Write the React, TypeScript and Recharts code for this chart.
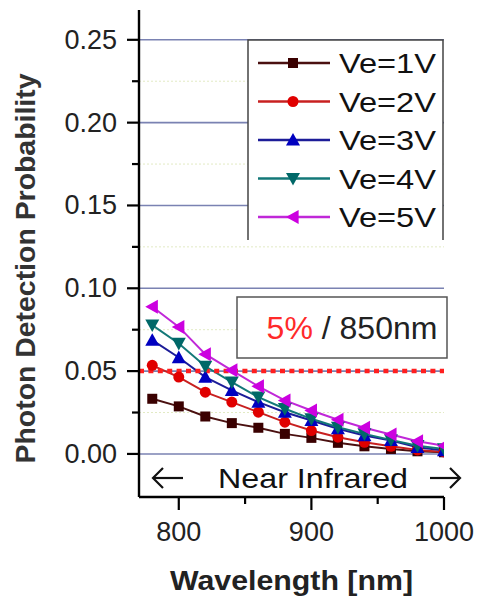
import React from "react";
import { LineChart, Line, XAxis, YAxis, ReferenceLine } from "recharts";

// wavelength samples (nm)
const WAVELENGTHS = [780, 800, 820, 840, 860, 880, 900, 920, 940, 960, 980, 1000];

// photon detection probability per excess bias
const VE1 = [0.0333, 0.0287, 0.0226, 0.0186, 0.0158, 0.0121, 0.0097, 0.0067, 0.0046, 0.003, 0.0016, 0.001];
const VE2 = [0.0535, 0.0464, 0.0373, 0.0313, 0.0252, 0.0192, 0.0141, 0.0101, 0.007, 0.0046, 0.0024, 0.0012];
const VE3 = [0.0687, 0.0582, 0.0464, 0.0384, 0.0313, 0.0252, 0.0202, 0.0152, 0.0111, 0.0081, 0.004, 0.002];
const VE4 = [0.0778, 0.0667, 0.0529, 0.0434, 0.0343, 0.0273, 0.0212, 0.0161, 0.0121, 0.0085, 0.005, 0.003];
const VE5 = [0.0889, 0.0767, 0.0602, 0.0505, 0.0408, 0.0323, 0.0262, 0.0206, 0.0158, 0.0117, 0.0076, 0.005];

const Y_TICKS = [0, 0.025, 0.05, 0.075, 0.1, 0.125, 0.15, 0.175, 0.2, 0.225, 0.25];
const Y_LABELS = [0, 0.05, 0.1, 0.15, 0.2, 0.25];
const Y_MINOR_GRID = [0.025, 0.075, 0.125, 0.175, 0.225];
const X_TICKS = [800, 850, 900, 950, 1000];
const X_LABELS = [800, 900, 1000];
const TARGET = 0.05;

const SERIES = [
  { key: "v1", name: "Ve=1V", values: VE1, line: "#4a1010", fill: "#3a0000", shape: "square" },
  { key: "v2", name: "Ve=2V", values: VE2, line: "#c82020", fill: "#e00000", shape: "circle" },
  { key: "v3", name: "Ve=3V", values: VE3, line: "#1c1c98", fill: "#0000c0", shape: "up" },
  { key: "v4", name: "Ve=4V", values: VE4, line: "#137878", fill: "#006868", shape: "down" },
  { key: "v5", name: "Ve=5V", values: VE5, line: "#c028d8", fill: "#cc00e0", shape: "left" },
];

const data = WAVELENGTHS.map((wl, i) => {
  const row: any = { wl };
  SERIES.forEach((s) => (row[s.key] = s.values[i]));
  return row;
});

const FONT = "'Liberation Sans', Arial, sans-serif";
const Y_TICK_SIZE = 12;
const Y_TICK_GAP = 10;
const X_TICK_SIZE = 13;
const X_TICK_GAP = 12;

function Marker({ cx, cy, shape, color }: any) {
  if (cx == null || cy == null) return null;
  if (shape === "square") return <rect x={cx - 5} y={cy - 5} width={10} height={10} fill={color} />;
  if (shape === "circle") return <circle cx={cx} cy={cy} r={5.5} fill={color} />;
  const s = 7;
  let pts = "";
  if (shape === "up") pts = `${cx},${cy - s} ${cx + s},${cy + s * 0.8} ${cx - s},${cy + s * 0.8}`;
  if (shape === "down") pts = `${cx},${cy + s} ${cx + s},${cy - s * 0.8} ${cx - s},${cy - s * 0.8}`;
  if (shape === "left") pts = `${cx - s},${cy} ${cx + s * 0.8},${cy - s} ${cx + s * 0.8},${cy + s}`;
  return <polygon points={pts} fill={color} />;
}

function YTick({ x, y, payload }: any) {
  const ax = x + Y_TICK_SIZE + Y_TICK_GAP;
  const major = Y_LABELS.includes(payload.value);
  return (
    <g>
      <line x1={ax} x2={ax - (major ? Y_TICK_SIZE : 7)} y1={y} y2={y} stroke="#000" strokeWidth={2.2} />
      {major && (
        <text x={x} y={y} textAnchor="end" dominantBaseline="central" fontSize={27} fontFamily={FONT} fill="#222">
          {payload.value.toFixed(2)}
        </text>
      )}
    </g>
  );
}

function XTick({ x, y, payload }: any) {
  const ay = y - X_TICK_SIZE - X_TICK_GAP;
  const major = X_LABELS.includes(payload.value);
  return (
    <g>
      <line x1={x} x2={x} y1={ay} y2={ay + (major ? X_TICK_SIZE : 7)} stroke="#000" strokeWidth={2.2} />
      {major && (
        <text x={x} y={y} dy="0.71em" textAnchor="middle" fontSize={27} fontFamily={FONT} fill="#222">
          {payload.value}
        </text>
      )}
    </g>
  );
}

export default function App() {
  return (
    <div style={{ position: "absolute", left: 0, top: 0, width: 481, height: 601, background: "#fff", fontFamily: FONT }}>
      <LineChart width={481} height={601} data={data} margin={{ top: 10, right: 37, left: 0, bottom: 0 }}>
        <XAxis
          dataKey="wl"
          type="number"
          domain={[770, 1000]}
          ticks={X_TICKS}
          interval={0}
          allowDataOverflow
          height={104}
          tickSize={X_TICK_SIZE}
          tickMargin={X_TICK_GAP}
          tickLine={false}
          axisLine={{ stroke: "#000", strokeWidth: 2.4 }}
          tick={<XTick />}
          label={{
            content: ({ viewBox }: any) => (
              <text
                x={viewBox.x + viewBox.width / 2}
                y={viewBox.y + viewBox.height - 11}
                textAnchor="middle"
                fontSize={28}
                fontWeight="bold"
                fontFamily={FONT}
                fill="#222"
                textLength={243}
                lengthAdjust="spacingAndGlyphs"
              >
                Wavelength [nm]
              </text>
            ),
          }}
        />
        <YAxis
          type="number"
          domain={[-0.026, 0.268]}
          ticks={Y_TICKS}
          interval={0}
          allowDataOverflow
          width={139}
          tickSize={Y_TICK_SIZE}
          tickMargin={Y_TICK_GAP}
          tickLine={false}
          axisLine={{ stroke: "#000", strokeWidth: 2.4 }}
          tick={<YTick />}
          label={{
            content: ({ viewBox }: any) => {
              const cx = 26;
              const cy = viewBox.y + viewBox.height / 2 + 15;
              return (
                <text
                  x={cx}
                  y={cy}
                  transform={`rotate(-90 ${cx} ${cy})`}
                  textAnchor="middle"
                  dominantBaseline="central"
                  fontSize={27}
                  fontWeight="bold"
                  fontFamily={FONT}
                  fill="#333"
                  textLength={390}
                  lengthAdjust="spacingAndGlyphs"
                >
                  Photon Detection Probability
                </text>
              );
            },
          }}
        />
        {Y_MINOR_GRID.map((v) => (
          <ReferenceLine key={"m" + v} y={v} stroke="#e2eac4" strokeWidth={1} strokeDasharray="2 2" />
        ))}
        {Y_LABELS.map((v) => (
          <ReferenceLine key={"g" + v} y={v} stroke="#7a82b2" strokeWidth={1.6} />
        ))}
        {SERIES.map((s) => (
          <Line
            key={s.key}
            dataKey={s.key}
            name={s.name}
            stroke={s.line}
            strokeWidth={2}
            isAnimationActive={false}
            dot={(p: any) => <Marker key={s.key + p.index} cx={p.cx} cy={p.cy} shape={s.shape} color={s.fill} />}
          />
        ))}
        <ReferenceLine y={TARGET} stroke="#ff1f1f" strokeWidth={4.5} strokeDasharray="5 4.4" />
      </LineChart>

      <svg width={481} height={601} style={{ position: "absolute", left: 0, top: 0, pointerEvents: "none" }}>
        {/* legend */}
        <path d="M248,240 L248,40 L443,40 L443,240" fill="#fff" stroke="#444" strokeWidth={1.5} />
        {SERIES.map((s, i) => {
          const cy = 63 + i * 38.5;
          return (
            <g key={s.key}>
              <line x1={258} x2={330} y1={cy} y2={cy} stroke={s.line} strokeWidth={2.5} />
              <Marker cx={293} cy={cy} shape={s.shape} color={s.fill} />
              <text
                x={339}
                y={cy + 10}
                fontSize={28}
                fontFamily={FONT}
                fill="#111"
                textLength={97}
                lengthAdjust="spacingAndGlyphs"
              >
                {s.name}
              </text>
            </g>
          );
        })}

        {/* target annotation */}
        <rect x={237} y={297} width={210} height={61} fill="#fff" stroke="#555" strokeWidth={1.5} />
        <text x={352} y={339} textAnchor="middle" fontSize={32} fontFamily={FONT} fill="#222">
          <tspan fill="#ff2a2a">5%</tspan> / 850nm
        </text>

        {/* near infrared band */}
        <g stroke="#111" strokeWidth={2.2} fill="none">
          <line x1={153} x2={183} y1={478} y2={478} />
          <polyline points="163,468 153,478 163,488" />
          <line x1={430} x2={460} y1={478} y2={478} />
          <polyline points="450,468 460,478 450,488" />
        </g>
        <text
          x={313}
          y={488}
          textAnchor="middle"
          fontSize={28}
          fontFamily={FONT}
          fill="#111"
          textLength={190}
          lengthAdjust="spacingAndGlyphs"
        >
          Near Infrared
        </text>
      </svg>
    </div>
  );
}
